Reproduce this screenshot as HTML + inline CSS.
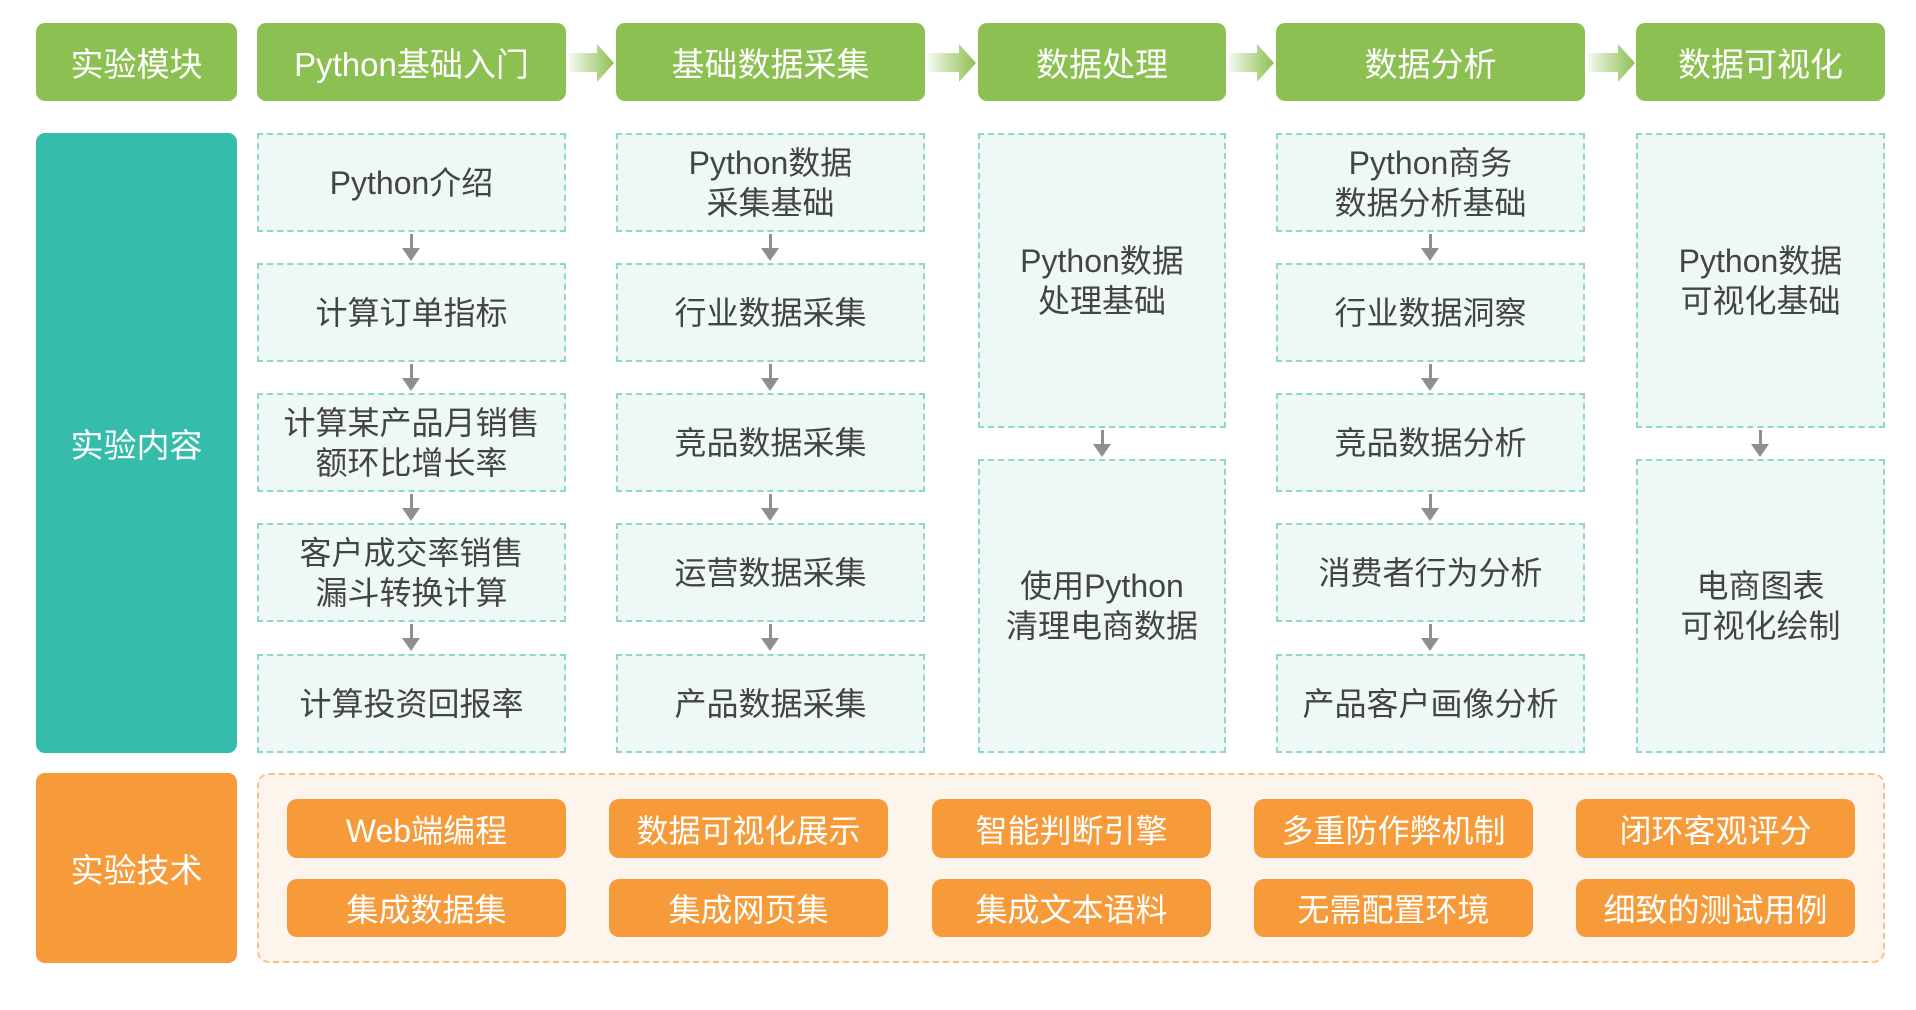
<!DOCTYPE html>
<html><head><meta charset="utf-8"><style>
*{margin:0;padding:0;box-sizing:border-box}
body{width:1916px;height:1010px;background:#fff;position:relative;overflow:hidden;font-family:"Liberation Sans","Noto Sans CJK SC",sans-serif}
.a{position:absolute;display:flex;align-items:center;justify-content:center;text-align:center}
.g{background:#8dc052;color:#fff;border-radius:9px;font-size:33px}
.l{border-radius:9px;color:#fff;font-size:33px}
.c{background:#eef8f6;border:2.5px dashed #92d6ca;color:#444;font-size:32px;line-height:40px}
.p{background:#f79b3a;color:#fff;border-radius:10px;font-size:32px}
.ar{position:absolute;width:0;height:0;border-left:9px solid transparent;border-right:9px solid transparent;border-top:13px solid #8f8f93}
.sh{position:absolute;width:3px;background:#8f8f93}
</style></head><body>
<div class="a l" style="left:36px;top:23px;width:201px;height:78px;background:#8dc052">实验模块</div>
<div class="a l" style="left:36px;top:133px;width:201px;height:620px;background:#35bcab">实验内容</div>
<div class="a l" style="left:36px;top:773px;width:201px;height:190px;background:#f79b3a">实验技术</div>

<div class="a g" style="left:257px;top:23px;width:309px;height:78px">Python基础入门</div>
<div class="a g" style="left:616px;top:23px;width:309px;height:78px">基础数据采集</div>
<div class="a g" style="left:978px;top:23px;width:248px;height:78px">数据处理</div>
<div class="a g" style="left:1276px;top:23px;width:309px;height:78px">数据分析</div>
<div class="a g" style="left:1636px;top:23px;width:249px;height:78px">数据可视化</div>

<svg style="position:absolute;left:0;top:0" width="1916" height="120">
<defs><linearGradient id="gr" x1="0" x2="1"><stop offset="0" stop-color="#8dc052" stop-opacity="0.1"/><stop offset="1" stop-color="#8dc052"/></linearGradient></defs>
<g fill="url(#gr)">
<path d="M569 53h28v-9l17 19-17 19v-10h-28z"/>
<path d="M928 53h31v-9l17 19-17 19v-10h-31z"/>
<path d="M1229 53h28v-9l17 19-17 19v-10h-28z"/>
<path d="M1588 53h30v-9l17 19-17 19v-10h-30z"/>
</g></svg>

<div class="a c" style="left:257px;top:133px;width:309px;height:99px">Python介绍</div>
<div class="a c" style="left:257px;top:263px;width:309px;height:99px">计算订单指标</div>
<div class="a c" style="left:257px;top:393px;width:309px;height:99px">计算某产品月销售<br>额环比增长率</div>
<div class="a c" style="left:257px;top:523px;width:309px;height:99px">客户成交率销售<br>漏斗转换计算</div>
<div class="a c" style="left:257px;top:654px;width:309px;height:99px">计算投资回报率</div>

<div class="a c" style="left:616px;top:133px;width:309px;height:99px">Python数据<br>采集基础</div>
<div class="a c" style="left:616px;top:263px;width:309px;height:99px">行业数据采集</div>
<div class="a c" style="left:616px;top:393px;width:309px;height:99px">竞品数据采集</div>
<div class="a c" style="left:616px;top:523px;width:309px;height:99px">运营数据采集</div>
<div class="a c" style="left:616px;top:654px;width:309px;height:99px">产品数据采集</div>

<div class="a c" style="left:978px;top:133px;width:248px;height:295px">Python数据<br>处理基础</div>
<div class="a c" style="left:978px;top:459px;width:248px;height:294px">使用Python<br>清理电商数据</div>

<div class="a c" style="left:1276px;top:133px;width:309px;height:99px">Python商务<br>数据分析基础</div>
<div class="a c" style="left:1276px;top:263px;width:309px;height:99px">行业数据洞察</div>
<div class="a c" style="left:1276px;top:393px;width:309px;height:99px">竞品数据分析</div>
<div class="a c" style="left:1276px;top:523px;width:309px;height:99px">消费者行为分析</div>
<div class="a c" style="left:1276px;top:654px;width:309px;height:99px">产品客户画像分析</div>

<div class="a c" style="left:1636px;top:133px;width:249px;height:295px">Python数据<br>可视化基础</div>
<div class="a c" style="left:1636px;top:459px;width:249px;height:294px">电商图表<br>可视化绘制</div>

<div id="arr"></div>
<script>
var ys=[232,362,492,622];
var h='';
[411,770,1430].forEach(function(x){ys.forEach(function(y){h+='<div class="sh" style="left:'+(x-1.5)+'px;top:'+(y+2)+'px;height:14px"></div><div class="ar" style="left:'+(x-9)+'px;top:'+(y+16)+'px"></div>';});});
[[1102,428],[1760,428]].forEach(function(p){h+='<div class="sh" style="left:'+(p[0]-1.5)+'px;top:'+(p[1]+2)+'px;height:14px"></div><div class="ar" style="left:'+(p[0]-9)+'px;top:'+(p[1]+16)+'px"></div>';});
document.getElementById('arr').innerHTML=h;
</script>

<div style="position:absolute;left:257px;top:773px;width:1628px;height:190px;background:#fdf5ec;border:2.5px dashed #f8c08a;border-radius:12px"></div>
<div class="a p" style="left:287px;top:799px;width:279px;height:59px">Web端编程</div>
<div class="a p" style="left:609px;top:799px;width:279px;height:59px">数据可视化展示</div>
<div class="a p" style="left:932px;top:799px;width:279px;height:59px">智能判断引擎</div>
<div class="a p" style="left:1254px;top:799px;width:279px;height:59px">多重防作弊机制</div>
<div class="a p" style="left:1576px;top:799px;width:279px;height:59px">闭环客观评分</div>
<div class="a p" style="left:287px;top:879px;width:279px;height:58px">集成数据集</div>
<div class="a p" style="left:609px;top:879px;width:279px;height:58px">集成网页集</div>
<div class="a p" style="left:932px;top:879px;width:279px;height:58px">集成文本语料</div>
<div class="a p" style="left:1254px;top:879px;width:279px;height:58px">无需配置环境</div>
<div class="a p" style="left:1576px;top:879px;width:279px;height:58px">细致的测试用例</div>
</body></html>
